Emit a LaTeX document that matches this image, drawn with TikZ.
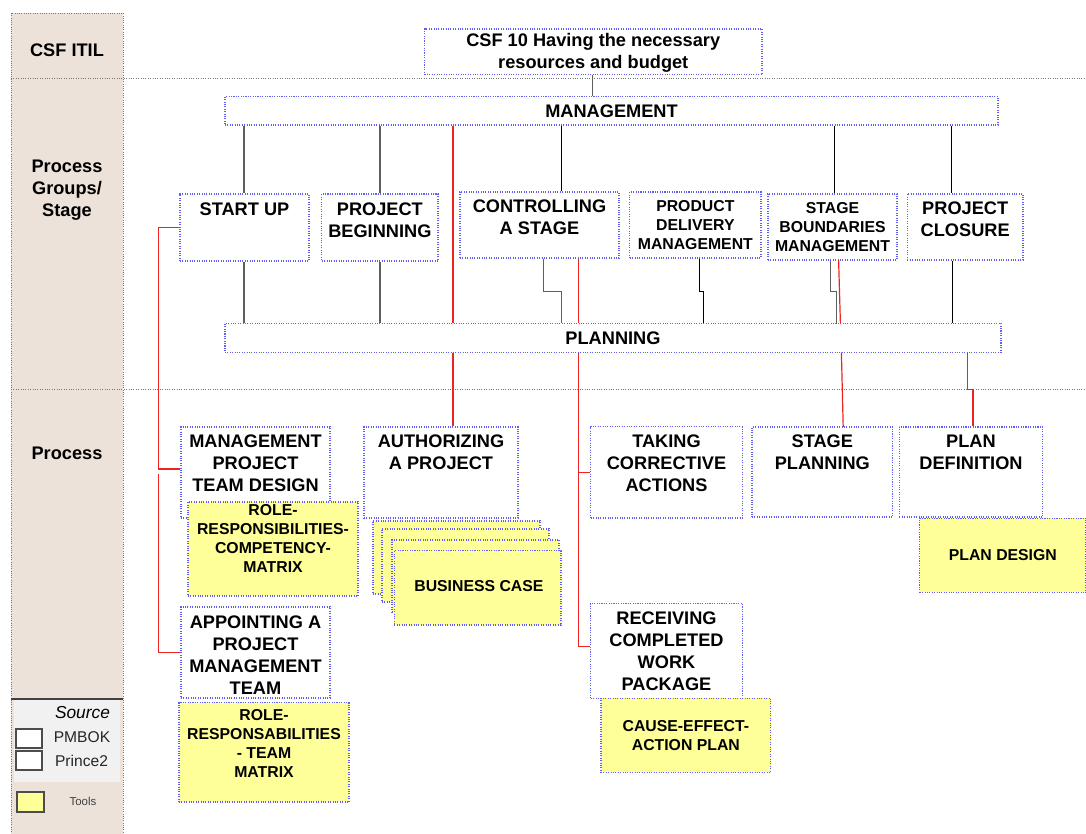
\documentclass[tikz,border=0pt]{standalone}
\usepackage{fontspec}
\setmainfont{Liberation Sans}
\usetikzlibrary{fit}

\definecolor{colbg}{RGB}{237,226,218}
\definecolor{legbg}{RGB}{241,241,241}
\definecolor{boxblue}{RGB}{95,95,245}
\definecolor{toolfill}{RGB}{255,255,153}
\definecolor{redline}{RGB}{240,35,35}
\definecolor{grayline}{RGB}{95,95,95}
\definecolor{sepgray}{RGB}{120,120,120}

\newcommand\fbig{\fontsize{13.65}{16.5}\selectfont\bfseries}
\newcommand\fsmall{\fontsize{11.85}{14.25}\selectfont\bfseries}

\begin{document}
\begin{tikzpicture}[x=0.75pt,y=-0.75pt,
  pbox/.style={draw=boxblue, densely dotted, line width=0.8pt, fill=white, inner sep=0pt},
  tbox/.style={pbox, fill=toolfill},
  tl/.style={anchor=north, inner sep=0pt, yshift=-#1, align=center, font=\fbig},
  tls/.style={anchor=north, inner sep=0pt, yshift=-#1, align=center, font=\fsmall},
  tc/.style={anchor=center, inner sep=0pt, align=center, font=\fbig},
  tcs/.style={anchor=center, inner sep=0pt, align=center, font=\fsmall},
  legbox/.style={draw=black!70, line width=0.8pt, inner sep=0pt},
  sep/.style={draw=sepgray, densely dotted, line width=0.8pt},
  gline/.style={draw=grayline, line width=0.9pt},
  bline/.style={draw=black, line width=0.6pt},
  rline/.style={draw=redline, line width=0.9pt},
  coltext/.style={font=\fbig, align=center, inner sep=0pt}]

\useasboundingbox (0,0) rectangle (1086,834);

% ---- left header column
\draw[fill=colbg, draw=sepgray, densely dotted, line width=0.7pt] (11,13) rectangle (123,836);
\draw[sep] (11,78.7) -- (1086,78.7);
\draw[sep] (11,389.3) -- (1086,389.3);

\node[coltext] (hcsf) at (67,50.7) {CSF ITIL};
\node[coltext] (hgroups) at (67,190) {Process\\Groups/\\Stage};
\node[coltext] (hproc) at (67,453) {Process};

% ---- legend
\fill[legbg] (14,699) rectangle (120,782);
\draw[black!75, line width=0.9pt] (11,699) -- (123,699);
\node[font=\fontsize{13}{15}\selectfont\itshape, inner sep=0pt] (lsource) at (82.5,713) {Source};
\node[legbox, fill=white, fit={(16,729) (42,748)}] (lpmbok) {};
\node[legbox, fill=white, fit={(16,751) (42,770)}] (lprince) {};
\node[font=\fontsize{11.7}{14}\selectfont, inner sep=0pt, text=black!85] (tpmbok) at (82,737.5) {PMBOK};
\node[font=\fontsize{11.7}{14}\selectfont, inner sep=0pt, text=black!85] (tprince) at (81.5,761) {Prince2};
\node[legbox, fill=toolfill, fit={(17,792) (44,812)}] (ltools) {};
\node[font=\fontsize{8.6}{10}\selectfont, inner sep=0pt, text=black!75] (ttools) at (83,801) {Tools};

% ---- CSF and the two bars
\node[pbox, fit={(424.5,29) (762,74.5)}, label={[tc, yshift=-0.6pt]center:{CSF 10 Having the necessary\\resources and budget}}] (csf) {};
\node[pbox, fit={(225,96.7) (998,125)}, label={[tc]center:{MANAGEMENT}}] (mgmt) {};
\node[pbox, fit={(225,323.3) (1001,352.3)}, label={[tc]center:{PLANNING}}] (plan) {};

% ---- process groups / stages
\node[pbox, fit={(180,194) (309,261)}, label={[tl=6.6pt]north:{START UP}}] (su) {};
\node[pbox, fit={(321.7,194) (438,261)}, label={[tl=6.8pt]north:{PROJECT\\BEGINNING}}] (pb) {};
\node[pbox, fit={(460,192) (619,258)}, label={[tl=6.4pt]north:{CONTROLLING\\A STAGE}}] (cs) {};
\node[pbox, fit={(629.7,192) (761,258)}, label={[tls=6.3pt]north:{PRODUCT\\DELIVERY\\MANAGEMENT}}] (pd) {};
\node[pbox, fit={(768,194) (897,260)}, label={[tls=6.4pt]north:{STAGE\\BOUNDARIES\\MANAGEMENT}}] (sb) {};
\node[pbox, fit={(907.4,194) (1023,260)}, label={[tl=6.4pt]north:{PROJECT\\CLOSURE}}] (pc) {};

% ---- processes
\node[pbox, fit={(181,427) (330,518)}, label={[tl=6.4pt]north:{MANAGEMENT\\PROJECT\\TEAM DESIGN}}] (mptd) {};
\node[tbox, fit={(188,502) (358,596)}, label={[tls=1.8pt]north:{ROLE-\\RESPONSIBILITIES-\\COMPETENCY-\\MATRIX}}] (rrc) {};
\node[pbox, fit={(181,607) (330,698)}, label={[tl=6.8pt]north:{APPOINTING A\\PROJECT\\MANAGEMENT\\TEAM}}] (apm) {};
\node[tbox, fit={(179,702.7) (349,802)}, label={[tls=5.6pt]north:{ROLE-\\RESPONSABILITIES\\- TEAM\\MATRIX}}] (rrt) {};

\node[pbox, fit={(364,427) (518,518)}, label={[tl=6.2pt]north:{AUTHORIZING\\A PROJECT}}] (auth) {};
\node[tbox, fit={(373,521) (540,594)}] (bca) {};
\node[tbox, fit={(382,529) (549,602)}] (bcb) {};
\node[tbox, fit={(392,540) (559,612)}] (bcc) {};
\node[tbox, fit={(394.4,550.7) (561,625)}, label={[tcs, xshift=0.9pt, yshift=1.2pt]center:{BUSINESS CASE}}] (bcd) {};

\node[pbox, fit={(590.7,426.7) (742.3,518)}, label={[tl=6.4pt]north:{TAKING\\CORRECTIVE\\ACTIONS}}] (tca) {};
\node[pbox, fit={(590.7,603.3) (742.3,698.3)}, label={[tl=6.5pt]north:{RECEIVING\\COMPLETED\\WORK\\PACKAGE}}] (rcw) {};
\node[tbox, fit={(601,698.3) (770.7,772.3)}, label={[tcs]center:{CAUSE-EFFECT-\\ACTION PLAN}}] (cea) {};

\node[pbox, fit={(752,427) (892.7,517)}, label={[tl=6.4pt]north:{STAGE\\PLANNING}}] (sp) {};
\node[pbox, fit={(899.3,427) (1042.7,517)}, label={[tl=6.4pt]north:{PLAN\\DEFINITION}}] (pdef) {};
\node[tbox, fit={(919.7,518.3) (1086,592.3)}, label={[tcs]center:{PLAN DESIGN}}] (pdes) {};

% ---- columns and bends used by the connectors
\coordinate (xcsf) at (592.5,0);
\coordinate (xsu) at (244,0);
\coordinate (xpb) at (380,0);
\coordinate (xred) at (453,0);
\coordinate (xcs) at (561.4,0);
\coordinate (xcsr) at (578.2,0);
\coordinate (xsb) at (834,0);
\coordinate (xpc) at (951,0);
\coordinate (xpcb) at (952.5,0);

\coordinate (csA) at (543.6,291.7);
\coordinate (csB) at (561.4,291.7);
\coordinate (pdA) at (699.3,291.7);
\coordinate (pdB) at (703.2,291.7);
\coordinate (sbA) at (830.7,291.7);
\coordinate (sbB) at (836.8,291.7);
\coordinate (sbR1) at (838.6,260);
\coordinate (sbR2) at (840.4,323.3);
\coordinate (spR1) at (841.4,352.3);
\coordinate (spR2) at (843.2,427);
\coordinate (pdR1) at (967.5,389.3);
\coordinate (pdR2) at (972.9,389.3);
\coordinate (jmp) at (158.3,469);
\coordinate (japp) at (158.3,474);
\coordinate (jrc) at (578.2,646.7);

% ---- management -> stages -> planning
\draw[gline] (csf.south -| xcsf) -- (mgmt.north -| xcsf);
\draw[gline] (mgmt.south -| xsu) -- (su.north -| xsu);
\draw[gline] (su.south -| xsu) -- (plan.north -| xsu);
\draw[gline] (mgmt.south -| xpb) -- (pb.north -| xpb);
\draw[gline] (pb.south -| xpb) -- (plan.north -| xpb);
\draw[rline] (mgmt.south -| xred) -- (plan.north -| xred);
\draw[bline] (mgmt.south -| xcs) -- (cs.north -| xcs);
\draw[gline] (cs.south -| csA) -- (csA) -- (csB) -- (plan.north -| csB);
\draw[rline] (cs.south -| xcsr) -- (plan.north -| xcsr);
\draw[bline] (pd.south -| pdA) -- (pdA) -- (pdB) -- (plan.north -| pdB);
\draw[bline] (mgmt.south -| xsb) -- (sb.north -| xsb);
\draw[gline] (sb.south -| sbA) -- (sbA) -- (sbB) -- ([yshift=-1pt]plan.north -| sbB);
\draw[rline] (sbR1) -- (sbR2);
\draw[bline] (mgmt.south -| xpc) -- (pc.north -| xpc);
\draw[bline] (pc.south -| xpcb) -- (plan.north -| xpcb);

% ---- planning -> processes
\draw[rline] (plan.south -| xred) -- (auth.north -| xred);
\draw[rline] (plan.south -| xcsr) |- (tca.west);
\draw[rline] (plan.south -| jrc) -- (jrc) -- (jrc -| rcw.west);
\draw[rline] (spR1) -- (spR2);
\draw[rline] (plan.south -| pdR1) -- (pdR1) -- (pdR2) -- (pdef.north -| pdR2);

% ---- start up -> team processes
\draw[rline] (su.west) -| (jmp) -- (jmp -| mptd.west);
\draw[rline] (japp) |- (apm.west);

\end{tikzpicture}
\end{document}
